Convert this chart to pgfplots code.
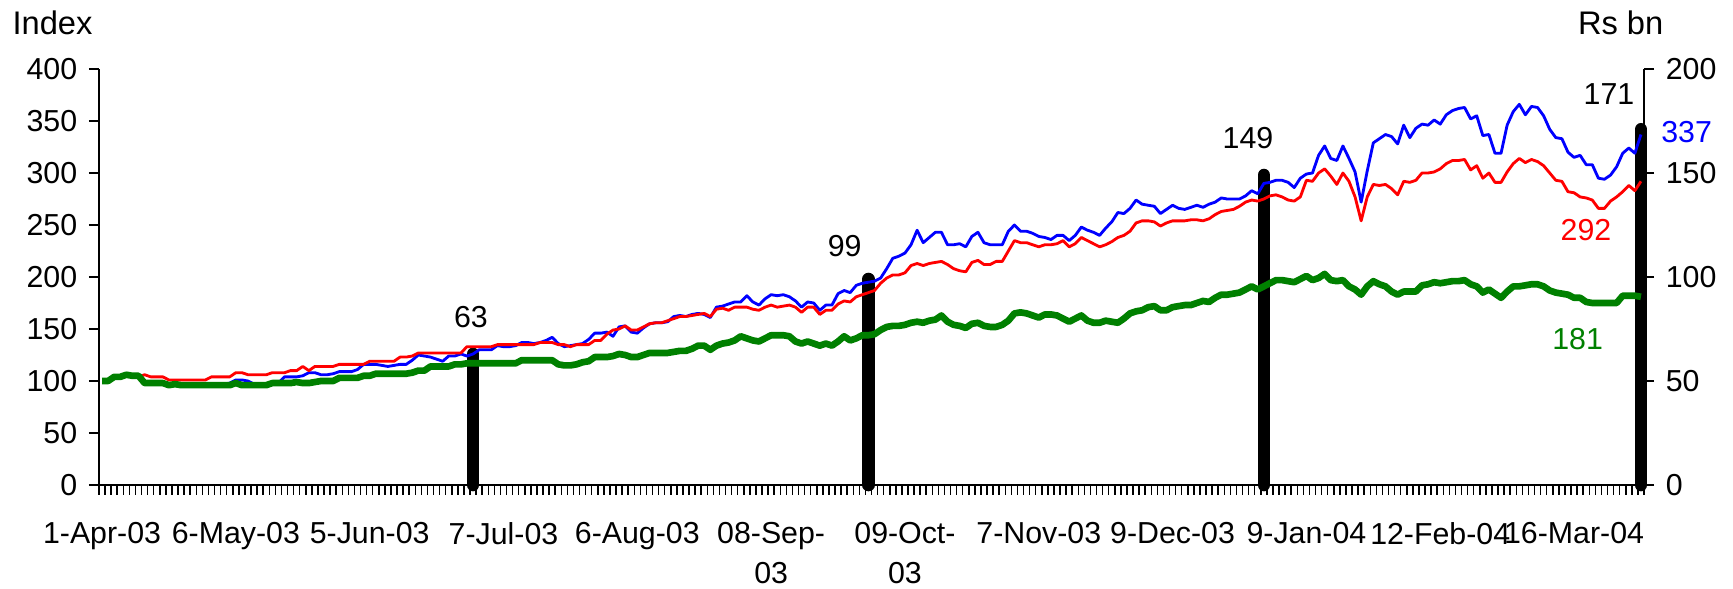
\documentclass[border=0pt]{standalone}
\usepackage{pgfplots}
\pgfplotsset{compat=1.18}
\usepackage{pgfplotstable}
\usepackage{fontspec}
\setmainfont{Liberation Sans}
\definecolor{xlblue}{RGB}{0,0,255}
\definecolor{xlred}{RGB}{255,0,0}
\definecolor{xlgreen}{RGB}{0,128,0}

\pgfplotstableread{
i G R B
0 100 100 100
1 100 100 100
2 104 103 103
3 104 104 104
4 106 105 105
5 105 104 104
6 105 104 104
7 98 106 99
8 98 104 98
9 98 104 98
10 98 104 97
11 96 101 96
12 97 101 97
13 96 101 96
14 96 101 96
15 96 101 96
16 96 101 96
17 96 101 96
18 96 104 97
19 96 104 97
20 96 104 97
21 96 104 98
22 98 108 101
23 96 108 101
24 96 106 100
25 96 106 97
26 96 106 97
27 96 106 97
28 98 108 98
29 98 108 98
30 98 108 104
31 98 110 104
32 99 110 104
33 98 114 105
34 98 110 108
35 99 114 108
36 100 114 106
37 100 114 106
38 100 114 107
39 103 116 109
40 103 116 109
41 103 116 109
42 103 116 111
43 105 116 116
44 105 119 116
45 107 119 116
46 107 119 115
47 107 119 114
48 107 119 115
49 107 123 116
50 107 123 116
51 108 124 120
52 110 127 125
53 110 127 124
54 114 127 123
55 114 127 121
56 114 127 119
57 114 127 124
58 116 127 124
59 116 127 126
60 117 133 124
61 117 133 126
62 117 133 130
63 117 133 130
64 117 133 130
65 117 135 134
66 117 135 133
67 117 135 133
68 117 135 134
69 120 135 137
70 120 135 137
71 120 135 136
72 120 137 137
73 120 137 139
74 120 137 142
75 116 135 136
76 115 135 133
77 115 133 134
78 116 135 135
79 118 135 136
80 119 135 140
81 123 139 146
82 123 139 146
83 123 145 147
84 124 149 143
85 126 150 152
86 125 153 153
87 123 149 147
88 123 149 146
89 125 152 151
90 127 155 155
91 127 156 156
92 127 156 156
93 127 158 157
94 128 160 162
95 129 162 163
96 129 162 162
97 131 163 164
98 134 164 165
99 134 165 164
100 130 162 161
101 134 169 171
102 136 170 172
103 137 168 174
104 139 171 176
105 143 171 176
106 141 171 182
107 139 169 176
108 138 168 173
109 141 171 179
110 144 173 183
111 144 171 182
112 144 172 183
113 143 173 181
114 138 171 177
115 136 166 171
116 138 171 176
117 136 171 175
118 134 164 168
119 136 168 173
120 134 168 173
121 138 174 184
122 143 177 187
123 139 176 185
124 141 181 192
125 144 183 194
126 144 185 195
127 145 187 196
128 149 194 199
129 152 199 208
130 153 202 218
131 153 202 220
132 154 204 223
133 156 211 231
134 157 213 245
135 156 211 233
136 158 213 238
137 159 214 243
138 163 215 243
139 157 212 231
140 154 208 231
141 153 206 232
142 151 205 229
143 155 214 239
144 156 216 243
145 153 212 233
146 152 212 231
147 152 215 231
148 154 215 231
149 158 225 244
150 165 235 250
151 166 233 244
152 165 233 244
153 163 231 242
154 161 229 239
155 164 231 238
156 164 231 236
157 163 232 240
158 160 235 240
159 157 229 235
160 160 232 240
161 163 238 248
162 158 235 245
163 156 232 243
164 156 229 240
165 158 231 247
166 157 234 253
167 156 238 262
168 160 240 261
169 165 244 266
170 167 252 274
171 168 254 270
172 171 254 269
173 172 253 268
174 168 249 261
175 168 252 265
176 171 254 269
177 172 254 266
178 173 254 265
179 173 255 267
180 175 255 269
181 177 254 267
182 176 256 270
183 180 260 272
184 183 263 276
185 183 264 275
186 184 265 275
187 185 268 275
188 188 272 278
189 191 274 283
190 188 273 280
191 191 275 290
192 194 278 291
193 197 279 293
194 197 277 293
195 196 274 291
196 195 273 286
197 198 277 295
198 201 293 299
199 197 292 300
200 199 300 317
201 203 304 326
202 197 297 314
203 196 289 312
204 197 300 326
205 191 292 314
206 188 277 301
207 183 254 272
208 191 277 302
209 196 289 329
210 193 288 333
211 191 289 337
212 186 285 335
213 183 279 328
214 186 292 346
215 186 291 334
216 186 293 343
217 192 300 347
218 193 300 346
219 195 301 351
220 194 304 347
221 195 309 356
222 196 312 360
223 196 312 362
224 197 313 363
225 193 303 352
226 191 307 355
227 185 295 336
228 188 300 337
229 184 291 319
230 180 291 319
231 186 301 346
232 191 309 359
233 191 314 366
234 192 310 356
235 193 313 364
236 193 311 363
237 191 307 355
238 187 300 342
239 185 293 334
240 184 292 333
241 183 282 320
242 180 281 315
243 180 277 317
244 176 276 308
245 175 274 308
246 175 266 295
247 175 266 294
248 175 273 298
249 175 277 306
250 182 282 319
251 182 288 324
252 182 283 319
253 181 292 337
}\data

\pgfplotsset{
  common/.style={
    at={(29.7pt,31.2pt)}, anchor=south west,
    scale only axis, width=463.5pt, height=124.8pt,
    xmin=-0.5, xmax=253.5,
    tick align=outside, major tick length=3pt,
    axis line style={black, line width=0.45pt},
    every tick/.style={black, line width=0.45pt},
    /pgf/number format/assume math mode=true,
    ticklabel style={font=\fontsize{9.1}{12}\selectfont},
  }
}

\begin{document}
\begin{tikzpicture}[font=\fontsize{9.1}{12}\selectfont]
\useasboundingbox (0,0) rectangle (519.9pt,176.7pt);
% bars on the right axis
\begin{axis}[common,
  ymin=0, ymax=200,
  axis y line*=right, axis x line=none,
  ytick={0,50,...,200},
  clip=false]
\addplot[ycomb, black, line width=3.8pt, line cap=round] coordinates {(61,63) (126,99) (191,149) (253,171)};
\end{axis}
% index lines on the left axis
\begin{axis}[common,
  ymin=0, ymax=400,
  axis y line*=left, axis x line*=bottom,
  ytick={0,50,...,400},
  xtick={-0.5,0.5,...,253.5},
  xticklabels={},
  extra x ticks={0,22,44,66,88,110,132,154,176,198,220,242},
  extra x tick labels={1-Apr-03,6-May-03,5-Jun-03,7-Jul-03,6-Aug-03,{08-Sep-\\03},{09-Oct-\\03},7-Nov-03,9-Dec-03,9-Jan-04,12-Feb-04,16-Mar-04},
  extra x tick style={major tick length=0pt, xticklabel style={align=center, inner sep=0pt, yshift=-11pt}},
  line join=round]
\addplot[xlblue, line width=0.85pt, line join=round] table[x=i, y=B] {\data};
\addplot[xlred, line width=0.85pt, line join=round] table[x=i, y=R] {\data};
\addplot[xlgreen, line width=2pt, line join=round] table[x=i, y=G] {\data};
\end{axis}
\node[anchor=base, font=\fontsize{9.8}{12}\selectfont] at (15.75pt,166.2pt) {Index};
\node[anchor=base, font=\fontsize{9.8}{12}\selectfont] at (486.2pt,166.2pt) {Rs bn};
\node[anchor=base] at (141.3pt,78.3pt) {63};
\node[anchor=base] at (253.4pt,99.6pt) {99};
\node[anchor=base] at (374.4pt,132.0pt) {149};
\node[anchor=base] at (482.7pt,145.2pt) {171};
\node[anchor=base, text=xlblue] at (506pt,133.8pt) {337};
\node[anchor=base, text=xlred] at (475.8pt,104.4pt) {292};
\node[anchor=base, text=xlgreen] at (473.3pt,71.7pt) {181};
\end{tikzpicture}
\end{document}
